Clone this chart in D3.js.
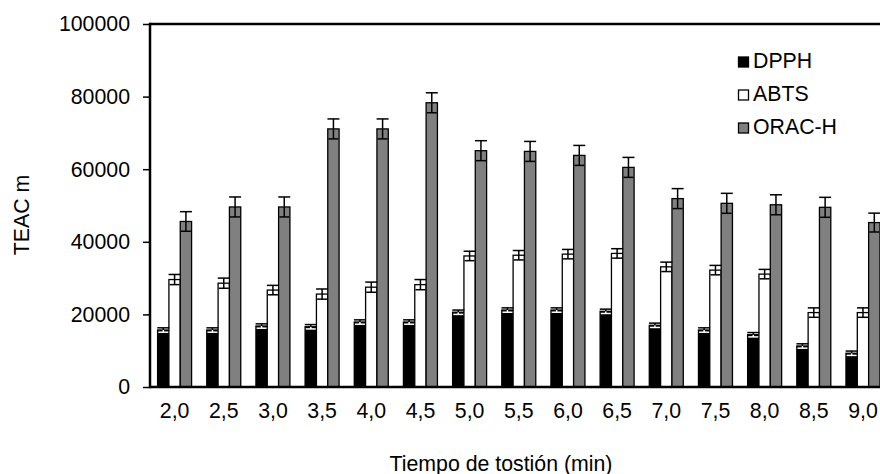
<!DOCTYPE html>
<html>
<head>
	<title>TEAC</title>
	<script src="https://cdn.jsdelivr.net/npm/d3@7"></script>
	<style>
	body { margin: 0; background: #fff; }
	svg text { font-family: "Liberation Sans", Arial, sans-serif; font-size: 21.3px; fill: #000; }
	</style>
</head>
<body>
	<svg></svg>
	<script>

	var categories = ["2,0", "2,5", "3,0", "3,5", "4,0", "4,5", "5,0", "5,5", "6,0", "6,5", "7,0", "7,5", "8,0", "8,5", "9,0"];
	var seriesNames = ["DPPH", "ABTS", "ORAC-H"];

	var dpph = [15700, 15700, 16800, 16600, 17900, 17900, 20600, 21200, 21200, 20850, 17000, 15700, 14400, 11300, 9300];
	var abts = [29600, 28600, 26700, 25600, 27500, 28200, 36100, 36300, 36600, 36800, 33100, 32200, 31100, 20500, 20500];
	var orac = [45600, 49600, 49600, 71100, 71100, 78300, 65100, 64900, 63800, 60500, 51900, 50600, 50200, 49500, 45300];

	var dpphErr = [600, 600, 600, 600, 600, 600, 600, 600, 600, 600, 600, 600, 600, 600, 600];
	var abtsErr = [1400, 1400, 1300, 1400, 1400, 1400, 1300, 1300, 1300, 1300, 1300, 1300, 1300, 1300, 1300];
	var oracErr = [2700, 2750, 2750, 2750, 2750, 2750, 2750, 2750, 2750, 2750, 2750, 2750, 2750, 2750, 2600];

	var yTicks = [0, 20000, 40000, 60000, 80000, 100000];
	var fills = ["#000000", "#ffffff", "#808080"];

	var width = 880, height = 474;
	var plotLeft = 150, plotTop = 24, plotBottom = 387;

	var svg = d3.select("svg")
		.attr("width", width)
		.attr("height", height);

	var x = d3.scaleBand().domain(categories).range([plotLeft, plotLeft + 15 * 49.17]).padding(0);
	var xs = d3.scaleBand().domain(seriesNames)
		.range([x.bandwidth() / 2 - 17, x.bandwidth() / 2 + 17]).padding(0);
	var y = d3.scaleLinear().domain([0, 100000]).range([plotBottom, plotTop]);

	var rows = categories.map(function(c, i) {
		return seriesNames.map(function(s, j) {
			return {cat: c, series: s, idx: j,
				value: [dpph, abts, orac][j][i],
				err: [dpphErr, abtsErr, oracErr][j][i]};
		});
	});

	var groups = svg.selectAll("g.group")
		.data(rows).enter()
		.append("g")
		.attr("class", "group")
		.attr("transform", function(d, i) { return "translate(" + x(categories[i]) + ",0)"; });

	groups.selectAll("rect")
		.data(function(d) { return d; }).enter()
		.append("rect")
		.attr("x", function(d) { return xs(d.series); })
		.attr("y", function(d) { return y(d.value); })
		.attr("width", xs.bandwidth())
		.attr("height", function(d) { return y(0) - y(d.value); })
		.attr("fill", function(d) { return fills[d.idx]; })
		.attr("stroke", "#000")
		.attr("stroke-width", 1.3);

	//error bars, lower half (inside the bar)
	var eb = groups.selectAll("g.err")
		.data(function(d) { return d; }).enter()
		.append("g")
		.attr("class", "err")
		.attr("stroke", function(d) { return d.idx == 0 ? "#fff" : "#000"; })
		.attr("stroke-width", 1.5);

	eb.append("line")
		.attr("x1", function(d) { return xs(d.series) + xs.bandwidth() / 2; })
		.attr("x2", function(d) { return xs(d.series) + xs.bandwidth() / 2; })
		.attr("y1", function(d) { return y(d.value - d.err); })
		.attr("y2", function(d) { return y(d.value); });

	eb.append("line")
		.attr("x1", function(d) { return xs(d.series) + xs.bandwidth() / 2 - 5; })
		.attr("x2", function(d) { return xs(d.series) + xs.bandwidth() / 2 + 5; })
		.attr("y1", function(d) { return y(d.value - d.err); })
		.attr("y2", function(d) { return y(d.value - d.err); });

	//upper half
	var ebUp = groups.selectAll("g.errup")
		.data(function(d) { return d; }).enter()
		.append("g")
		.attr("class", "errup")
		.attr("stroke", "#000")
		.attr("stroke-width", 1.5);

	ebUp.append("line")
		.attr("x1", function(d) { return xs(d.series) + xs.bandwidth() / 2; })
		.attr("x2", function(d) { return xs(d.series) + xs.bandwidth() / 2; })
		.attr("y1", function(d) { return y(d.value); })
		.attr("y2", function(d) { return y(d.value + d.err); });

	ebUp.append("line")
		.attr("x1", function(d) { return xs(d.series) + xs.bandwidth() / 2 - 6; })
		.attr("x2", function(d) { return xs(d.series) + xs.bandwidth() / 2 + 6; })
		.attr("y1", function(d) { return y(d.value + d.err); })
		.attr("y2", function(d) { return y(d.value + d.err); });

	//axes
	var yAxis = svg.append("g")
		.attr("transform", "translate(" + plotLeft + ",0)")
		.call(d3.axisLeft(y).tickValues(yTicks).tickSize(7).tickPadding(13).tickFormat(d3.format("d")));
	yAxis.select(".domain").remove();
	yAxis.selectAll(".tick line").attr("stroke", "#000").attr("stroke-width", 1.5);
	yAxis.selectAll("text").attr("font-size", null).attr("font-family", null).attr("fill", "#000");

	var xAxis = svg.append("g")
		.attr("transform", "translate(0," + plotBottom + ")")
		.call(d3.axisBottom(x).tickSize(0).tickPadding(16));
	xAxis.select(".domain").remove();
	xAxis.selectAll("text").attr("fill", "#000");
	yAxis.attr("font-size", null).attr("font-family", null);
	xAxis.attr("font-size", null).attr("font-family", null);

	svg.append("line")
		.attr("x1", plotLeft).attr("x2", width + 10)
		.attr("y1", plotBottom).attr("y2", plotBottom)
		.attr("stroke", "#000").attr("stroke-width", 2.5);
	svg.append("line")
		.attr("x1", plotLeft).attr("x2", width + 10)
		.attr("y1", plotTop).attr("y2", plotTop)
		.attr("stroke", "#000").attr("stroke-width", 2.5);
	svg.append("line")
		.attr("x1", plotLeft).attr("x2", plotLeft)
		.attr("y1", plotTop - 1.2).attr("y2", plotBottom + 1.2)
		.attr("stroke", "#000").attr("stroke-width", 2.5);

	//titles
	svg.append("text")
		.attr("x", 501).attr("y", 471)
		.attr("text-anchor", "middle")
		.text("Tiempo de tostión (min)");
	svg.append("text")
		.attr("transform", "translate(29,215) rotate(-90)")
		.attr("text-anchor", "middle")
		.text("TEAC m");

	//legend
	var legend = svg.selectAll("g.legend")
		.data(seriesNames).enter()
		.append("g")
		.attr("class", "legend")
		.attr("transform", function(d, i) { return "translate(738," + (68 + i * 33) + ")"; });
	legend.append("rect")
		.attr("x", 0.5).attr("y", -11)
		.attr("width", 10).attr("height", 10)
		.attr("fill", function(d, i) { return fills[i]; })
		.attr("stroke", "#000").attr("stroke-width", 1.3);
	legend.append("text")
		.attr("x", 15).attr("y", 0)
		.text(function(d) { return d; });

	</script>
</body>
</html>
